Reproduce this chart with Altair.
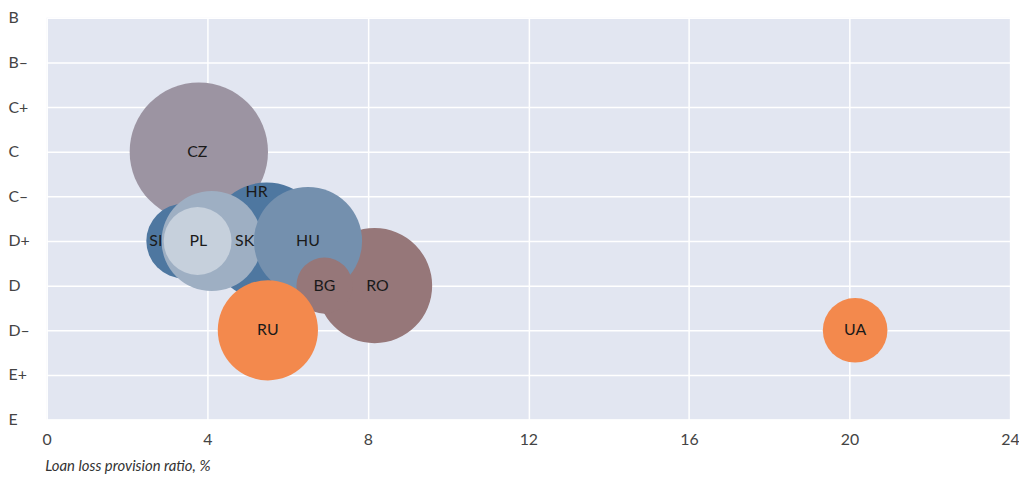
import altair as alt
import pandas as pd

# Rating scale, bottom to top
ratings = ["E", "E+", "D–", "D", "D+", "C–", "C", "C+", "B–", "B"]

countries = ["CZ", "HR", "SI", "SK", "PL", "RO", "HU", "BG", "RU", "UA"]
provision_ratio = [3.79, 5.48, 3.41, 4.11, 3.76, 8.17, 6.51, 6.92, 5.51, 20.14]
rating = ["C", "D+", "D+", "D+", "D+", "D", "D+", "D", "D–", "D–"]
bubble_size = [48.6, 34.8, 14.1, 25.5, 11.7, 33.6, 29.7, 8.0, 25.5, 10.6]
colors = ["#9c94a2", "#4e77a0", "#4e77a0", "#9eafc3", "#c6d0dc",
          "#967779", "#7490ae", "#967779", "#f3894d", "#f3894d"]
label_x = [3.75, 5.23, 2.72, 4.93, 3.78, 8.24, 6.51, 6.92, 5.51, 20.14]
label_rank_shift = [0, 1.1, 0, 0, 0, 0, 0, 0, 0, 0]

rank = [ratings.index(r) for r in rating]
df = pd.DataFrame({
    "country": countries,
    "x": provision_ratio,
    "rank": rank,
    "size": bubble_size,
    "color": colors,
    "z": list(range(len(countries))),
    "lx": label_x,
    "ly": [r + s for r, s in zip(rank, label_rank_shift)],
})

label_expr = "[" + ",".join("'%s'" % r for r in ratings) + "][datum.value]"

x_scale = alt.Scale(domain=[0, 24], nice=False, zero=True)
y_scale = alt.Scale(domain=[0, 9], nice=False)

bubbles = alt.Chart(df).mark_circle(opacity=1, strokeWidth=0).encode(
    x=alt.X("x:Q", scale=x_scale,
            axis=alt.Axis(values=[0, 4, 8, 12, 16, 20, 24],
                          title="Loan loss provision ratio, %",
                          titleFontStyle="italic", titleFontWeight="normal",
                          titleFontSize=15, titleColor="#333333",
                          titleAnchor="start", titleAlign="left",
                          titleX=-2, titleY=46, titleBaseline="middle",
                          labelFontSize=16, labelColor="#444444",
                          labelFlush=False,
                          labelPadding=12, ticks=False, domain=False,
                          gridColor="white", gridWidth=1.5)),
    y=alt.Y("rank:Q", scale=y_scale,
            axis=alt.Axis(values=list(range(10)), labelExpr=label_expr,
                          title=None, labelAlign="left", labelPadding=39,
                          labelFontSize=16, labelColor="#444444",
                          labelFlush=False,
                          ticks=False, domain=False,
                          gridColor="white", gridWidth=1.5)),
    size=alt.Size("size:Q", scale=alt.Scale(domain=[0, 50], range=[0, 20000]),
                  legend=None),
    color=alt.Color("color:N", scale=None),
    order=alt.Order("z:Q"),
)

labels = alt.Chart(df).mark_text(fontSize=16, color="#1a1a1a",
                                 baseline="middle", align="center").encode(
    x=alt.X("lx:Q", scale=x_scale),
    y=alt.Y("ly:Q", scale=y_scale),
    text="country:N",
)

chart = alt.layer(bubbles, labels).properties(
    width=971, height=405,
    autosize=alt.AutoSizeParams(type="none"),
    padding={"left": 39, "top": 8, "right": 9, "bottom": 54},
).configure(
    font="Lato"
).configure_view(
    fill="#e2e6f1", strokeWidth=0
)

chart.save("out.html", embed_options={"renderer": "svg", "actions": False})
